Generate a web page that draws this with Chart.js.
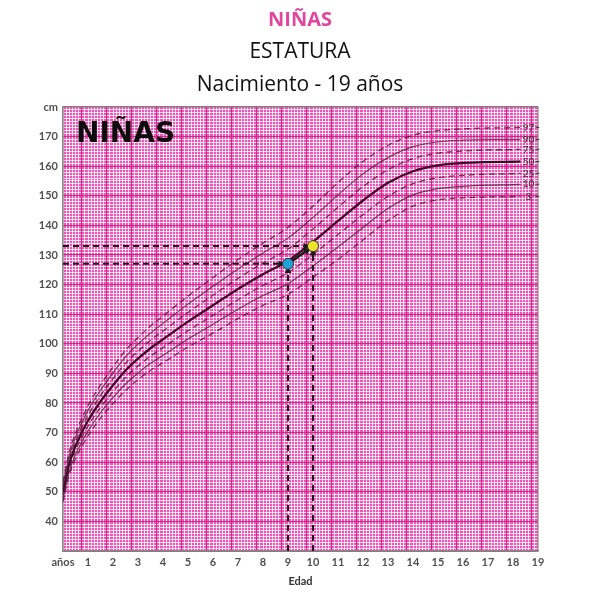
<!DOCTYPE html>
<html><head><meta charset="utf-8">
<script src="https://cdn.jsdelivr.net/npm/chart.js@4.4.1/dist/chart.umd.min.js"></script>
<style>html,body{margin:0;padding:0;background:#fff}</style>
</head><body>
<canvas id="c" width="600" height="600"></canvas>
<script>
// ---- data ----
const ages = [0, 0.25, 0.5, 0.75, 1, 1.5, 2, 2.5, 3, 3.5, 4, 5, 6, 7, 8, 9, 10, 11, 12, 13, 14, 15, 16, 17, 18, 18.3];
const p97 = [53.4,63.4,69.8,74.7,79.1,86.1,92.2,97.8,102.1,106,109.4,116.1,122.4,128.5,134,139.3,146.5,154.5,161.6,167,170.5,172,172.6,172.9,173,173.1];
const p90 = [52.3,62.2,68.4,73.2,77.5,84.3,90.2,95.6,99.9,103.6,106.9,113.4,119.4,125.3,130.7,135.7,142.7,150.3,157.4,162.9,166.6,168.2,168.8,169,169,169];
const p75 = [51.2,60.9,67,71.7,75.8,82.5,88.2,93.4,97.5,101.2,104.3,110.6,116.4,122.1,127.3,132,138.8,146.1,153.1,158.8,162.6,164.4,165.1,165.5,165.6,165.7];
const p50 = [50,59.5,65.5,70,74,80.5,86,91,95,98.5,101.5,107.5,113,118.5,123.5,128,134.5,141.5,148.4,154.4,158.3,160.3,161.1,161.4,161.5,161.6];
const p25 = [48.8,58.1,64,68.3,72.2,78.5,83.8,88.6,92.5,95.8,98.7,104.4,109.6,114.9,119.7,124,130.2,136.9,143.6,149.8,154.1,156.1,156.9,157.3,157.5,157.6];
const p10 = [47.7,56.8,62.6,66.8,70.5,76.7,81.8,86.4,90.1,93.4,96.1,101.6,106.6,111.7,116.3,120.3,126.3,132.7,139.3,145.7,150.3,152.4,153.2,153.6,153.8,153.9];
const p3  = [46.6,55.6,61.2,65.3,68.9,74.9,79.8,84.2,87.9,91,93.6,98.9,103.6,108.5,113,116.7,122.5,128.5,135.1,141.6,146.5,148.6,149.3,149.6,149.7,149.8];
const percentileNames = ['97','90','75','50','25','10','3'];
const childAges = [9, 10];
const childHeights = [127, 133];
const xTickLabels = ['años','1','2','3','4','5','6','7','8','9','10','11','12','13','14','15','16','17','18','19'];
const yMin = 30, yMax = 180;

// ---- styling ----
const PINK = '#ec55b0';
const MAJOR = '#cc2a8a';
const MINOR = 'rgba(255,255,255,0.78)';
const seriesList = [p97, p90, p75, p50, p25, p10, p3];
const styleFor = (name) => {
  if (name === '50') return {borderColor:'#45062c', borderWidth:2.3, borderDash:[]};
  if (name === '90' || name === '10') return {borderColor:'rgba(85,40,70,0.85)', borderWidth:1.2, borderDash:[]};
  return {borderColor:'rgba(90,20,60,0.85)', borderWidth:1.3, borderDash:[6,4]};
};
const toXY = (xs, ys) => xs.map((x, i) => ({x, y: ys[i]}));

const curveSets = seriesList.map((vals, i) => Object.assign({
  label: 'P' + percentileNames[i],
  data: toXY(ages, vals),
  pointRadius: 0,
  fill: false,
  cubicInterpolationMode: 'monotone',
  order: 3
}, styleFor(percentileNames[i])));

const bx = childAges[0], by = childHeights[0], yx = childAges[1], yy = childHeights[1];
const arrowStyle = {borderColor:'#1a1a1a', backgroundColor:'#1a1a1a', borderWidth:2, borderDash:[6,4],
  pointRadius:[0,4], pointStyle:'triangle', pointBorderWidth:0, order:2, fill:false};
const refSets = [
  Object.assign({}, arrowStyle, {label:'h1', data:[{x:0,y:by},{x:bx-0.3,y:by}], pointRotation:90}),
  Object.assign({}, arrowStyle, {label:'h2', data:[{x:0,y:yy},{x:yx-0.3,y:yy}], pointRotation:90}),
  Object.assign({}, arrowStyle, {label:'v1', data:[{x:bx,y:yMin},{x:bx,y:by-2.4}], pointRotation:0}),
  Object.assign({}, arrowStyle, {label:'v2', data:[{x:yx,y:yMin},{x:yx,y:yy-2.4}], pointRotation:0}),
  Object.assign({}, arrowStyle, {label:'a', borderDash:[], borderWidth:2.6,
    data:[{x:bx,y:by},{x:bx+(yx-bx)*0.75,y:by+(yy-by)*0.75}], pointRotation:55, pointRadius:[0,4.5]})
];
const pointSet = {
  type:'scatter', label:'niña', data: toXY(childAges, childHeights),
  pointRadius:5.5, pointBackgroundColor:['#1fa3d8','#ebe428'], pointBorderColor:'#333', pointBorderWidth:1, order:1
};

const majorXTicks = [];
for (let v = 0.75; v < 19; v += 1) majorXTicks.push({value: v});
const minorXTicks = [];
for (let v = 0; v <= 19.0001; v += 0.125) minorXTicks.push({value: v});
const minorYTicks = [];
for (let v = yMin; v <= yMax; v += 1) minorYTicks.push({value: v});

const bgPlugin = {
  id:'bg',
  beforeDraw(chart){
    const {ctx, chartArea:a} = chart;
    ctx.save(); ctx.fillStyle = PINK; ctx.fillRect(a.left, a.top, a.right-a.left, a.bottom-a.top); ctx.restore();
  },
  beforeDatasetsDraw(chart){
    const {ctx, chartArea:a} = chart;
    ctx.save(); ctx.strokeStyle = '#8a8a8a'; ctx.lineWidth = 1.2;
    ctx.strokeRect(a.left, a.top, a.right-a.left, a.bottom-a.top); ctx.restore();
  },
  afterDatasetsDraw(chart){
    const {ctx, chartArea:a, scales} = chart;
    const xs = scales.x, ys = scales.y;
    ctx.save();
    ctx.font = 'bold 28px "DejaVu Sans"';
    ctx.fillStyle = '#0d0d0d'; ctx.textAlign = 'left'; ctx.textBaseline = 'alphabetic';
    ctx.fillText('NIÑAS', a.left + 13, a.top + 35);
    ctx.font = '10px "Lato"';
    ctx.fillStyle = '#333'; ctx.textAlign = 'center'; ctx.textBaseline = 'middle';
    seriesList.forEach((vals, i) => {
      const y = ys.getPixelForValue(vals[vals.length-1]);
      ctx.fillText(percentileNames[i], xs.getPixelForValue(18.62), y);
      ctx.strokeStyle = '#333'; ctx.lineWidth = 1;
      ctx.beginPath(); ctx.moveTo(xs.getPixelForValue(18.9), y); ctx.lineTo(xs.getPixelForValue(19.05), y); ctx.stroke();
    });
    ctx.restore();
  }
};

const tickFont = {family:'Lato', size:11, weight:'bold'};
new Chart(document.getElementById('c'), {
  type:'line',
  data:{datasets:[pointSet, ...refSets, ...curveSets]},
  options:{
    responsive:false, animation:false,
    layout:{padding:{left:0, right:0, top:0, bottom:0}},
    plugins:{
      legend:{display:false}, tooltip:{enabled:false},
      title:{display:true, text:'NIÑAS', color:'#e0489d', font:{family:'Open Sans', size:20, weight:'bold', lineHeight:1.2}, padding:{top:8,bottom:4}},
      subtitle:{display:true, text:['ESTATURA','Nacimiento - 19 años'], color:'#111', font:{family:'Open Sans', size:21, weight:'normal', lineHeight:1.571}, padding:{top:0,bottom:5}}
    },
    scales:{
      xMinor:{type:'linear', position:'bottom', min:0, max:19, afterBuildTicks:s=>{s.ticks = minorXTicks.slice();},
        ticks:{display:false}, grid:{color:MINOR, lineWidth:1, drawTicks:false, z:-3}, border:{display:false},
        afterFit:s=>{s.height = 0;}},
      yMinor:{type:'linear', position:'left', min:yMin, max:yMax, afterBuildTicks:s=>{s.ticks = minorYTicks.slice();},
        ticks:{display:false}, grid:{color:MINOR, lineWidth:1, drawTicks:false, z:-3}, border:{display:false},
        afterFit:s=>{s.width = 0;}},
      xMajor:{type:'linear', position:'bottom', min:0, max:19, afterBuildTicks:s=>{s.ticks = majorXTicks.slice();},
        ticks:{display:false}, grid:{color:MAJOR, lineWidth:1, drawTicks:false, z:-2}, border:{display:false},
        afterFit:s=>{s.height = 0;}},
      spacer:{type:'linear', position:'right', min:yMin, max:yMax,
        ticks:{display:false}, grid:{display:false, drawTicks:false}, border:{display:false},
        afterFit:s=>{s.width = 62;}},
      x:{type:'linear', position:'bottom', min:0, max:19,
        ticks:{stepSize:1, autoSkip:false, maxRotation:0, padding:5, color:'#505050', font:tickFont,
          callback:v=>xTickLabels[v]},
        grid:{display:false, drawTicks:false}, border:{display:true, color:'#8a8a8a', width:1.2},
        title:{display:true, text:'Edad', color:'#333', font:{family:'Lato', size:11, weight:'bold'}, padding:{top:0,bottom:12}},
        afterFit:s=>{s.height = 49;}},
      y:{type:'linear', position:'left', min:yMin, max:yMax,
        ticks:{stepSize:10, padding:5, color:'#505050', font:tickFont,
          callback:v=> v===yMin ? '' : (v===yMax ? 'cm' : String(v))},
        grid:{color:MAJOR, lineWidth:1, drawTicks:false, z:-2}, border:{display:true, color:'#8a8a8a', width:1.2},
        afterFit:s=>{s.width = 63;}}
    }
  },
  plugins:[bgPlugin]
});
</script>
</body></html>
